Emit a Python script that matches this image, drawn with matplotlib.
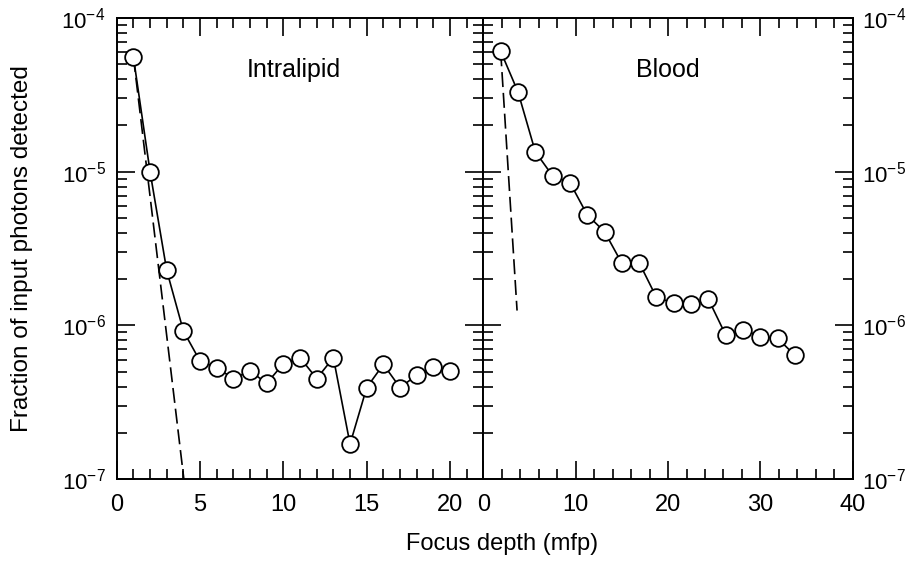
import matplotlib
matplotlib.use("Agg")
import matplotlib.pyplot as plt
from matplotlib.ticker import LogLocator, MultipleLocator, NullFormatter, FixedLocator

plt.rcParams['font.family'] = ['Liberation Sans', 'DejaVu Sans']
plt.rcParams['mathtext.fontset'] = 'custom'
plt.rcParams['mathtext.rm'] = 'Liberation Sans'
plt.rcParams['mathtext.it'] = 'Liberation Sans:italic'

# Intralipid data
intra_x = [1, 2, 3, 4, 5, 6, 7, 8, 9, 10, 11, 12, 13, 14, 15, 16, 17, 18, 19, 20]
intra_y = [5.58e-5, 1.0e-5, 2.28e-6, 9.2e-7, 5.86e-7, 5.31e-7, 4.51e-7, 5.05e-7, 4.2e-7, 5.64e-7,
           6.17e-7, 4.51e-7, 6.17e-7, 1.69e-7, 3.94e-7, 5.58e-7, 3.94e-7, 4.75e-7, 5.36e-7, 5.05e-7]
intra_ball_x = [1.0, 4.1]
intra_ball_y = [5.58e-5, 8.6e-8]

# Blood data
blood_x = [1.875, 3.75, 5.625, 7.5, 9.375, 11.25, 13.125, 15.0, 16.875, 18.75,
           20.625, 22.5, 24.375, 26.25, 28.125, 30.0, 31.875, 33.75]
blood_y = [6.08e-5, 3.31e-5, 1.35e-5, 9.4e-6, 8.5e-6, 5.24e-6, 4.07e-6, 2.54e-6, 2.56e-6, 1.52e-6,
           1.40e-6, 1.38e-6, 1.48e-6, 8.65e-7, 9.4e-7, 8.45e-7, 8.24e-7, 6.38e-7]
blood_ball_x = [1.875, 3.65]
blood_ball_y = [6.08e-5, 1.25e-6]

ytick_vals = [1e-7, 1e-6, 1e-5, 1e-4]
ytick_labels = [r'$\mathregular{10^{-7}}$', r'$\mathregular{10^{-6}}$',
                r'$\mathregular{10^{-5}}$', r'$\mathregular{10^{-4}}$']

fig = plt.figure(figsize=(9.12, 5.65), dpi=100)
ax1 = fig.add_axes([0.128, 0.152, 0.402, 0.816])
ax2 = fig.add_axes([0.530, 0.152, 0.405, 0.816])


def style_axis(ax, xmax, major, minor, label_right):
    ax.set_yscale('log')
    ax.set_ylim(1e-7, 1e-4)
    ax.set_xlim(0, xmax)
    ax.xaxis.set_major_locator(MultipleLocator(major))
    ax.xaxis.set_minor_locator(MultipleLocator(minor))
    ax.yaxis.set_major_locator(FixedLocator(ytick_vals))
    ax.yaxis.set_minor_locator(LogLocator(base=10, subs=range(2, 10)))
    ax.yaxis.set_minor_formatter(NullFormatter())
    ax.set_yticklabels(ytick_labels)
    ax.tick_params(which='both', direction='in', top=True, right=True, width=1.2)
    ax.tick_params(which='major', length=13)
    ax.tick_params(which='minor', length=7)
    ax.tick_params(axis='x', pad=11, labelsize=17)
    ax.tick_params(axis='y', pad=8, labelsize=16)
    if label_right:
        ax.tick_params(axis='y', labelleft=False, labelright=True, pad=7)
    for sp in ax.spines.values():
        sp.set_linewidth(1.4)


style_axis(ax1, 22, 5, 1, False)
style_axis(ax2, 40, 10, 2, True)

ax1.plot(intra_ball_x, intra_ball_y, color='black', lw=1.2, dashes=(9, 3.5))
ax1.plot(intra_x, intra_y, color='black', lw=1.2, marker='o', markersize=12,
         markerfacecolor='white', markeredgecolor='black', markeredgewidth=1.3)
ax1.text(10.6, 4.6e-5, 'Intralipid', fontsize=18, ha='center', va='center')

ax2.plot(blood_ball_x, blood_ball_y, color='black', lw=1.2, dashes=(9, 3.5))
ax2.plot(blood_x, blood_y, color='black', lw=1.2, marker='o', markersize=12,
         markerfacecolor='white', markeredgecolor='black', markeredgewidth=1.3)
ax2.text(20, 4.6e-5, 'Blood', fontsize=18, ha='center', va='center')

fig.text(0.024, 0.56, 'Fraction of input photons detected', rotation=90,
         fontsize=17.5, ha='center', va='center')
fig.text(0.551, 0.038, 'Focus depth (mfp)', fontsize=17, ha='center', va='center')

fig.savefig('out.png', dpi=100)
